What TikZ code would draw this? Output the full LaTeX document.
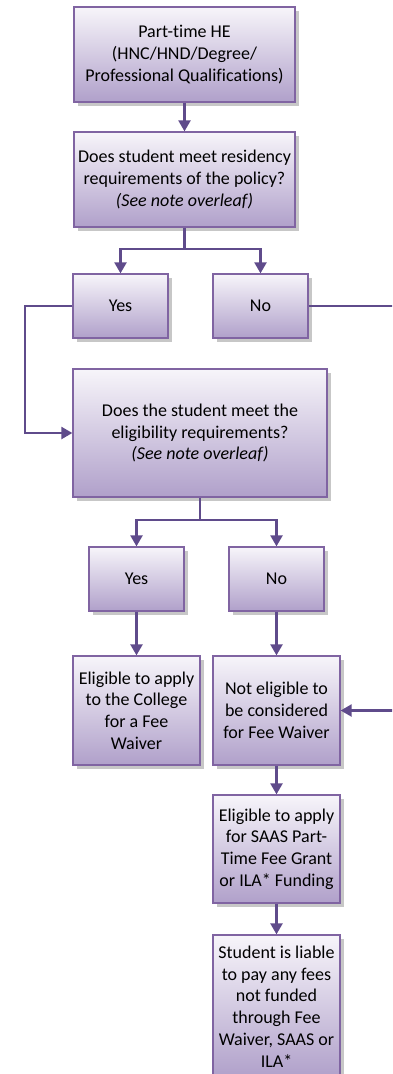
\documentclass[tikz,border=0pt]{standalone}
\usepackage{fontspec}
\setmainfont[Ligatures=NoCommon]{Carlito}
\usetikzlibrary{arrows.meta,shadows}
\definecolor{boxline}{HTML}{8064A2}
\definecolor{arrowc}{HTML}{5F4B8B}
\definecolor{topc}{HTML}{F7F5FA}
\definecolor{botc}{HTML}{B0A0CA}
\tikzset{
  fbox/.style={draw=boxline, line width=1.3pt, top color=topc, bottom color=botc,
    align=center, inner sep=0pt, font=\fontsize{18}{21.7}\selectfont,
    drop shadow={shadow xshift=3.5pt, shadow yshift=-3.5pt, fill=black!22, opacity=1}},
  conn/.style={draw=arrowc, line width=2.3pt},
  arr/.style={conn, -{Triangle[width=12pt,length=11pt]}}
}
\begin{document}
\begin{tikzpicture}[x=1pt,y=-1pt]
\useasboundingbox (0,0) rectangle (392,1074);
\clip (0,0) rectangle (392,1074);
\node[fbox, minimum width=221pt, minimum height=95pt] (b1) at (184.5,54.5)
  {Part-time HE\\(HNC/HND/Degree/\\Professional Qualifications)};
\node[fbox, minimum width=221pt, minimum height=95pt] (b2) at (184.5,179.5)
  {Does student meet residency\\requirements of the policy?\\\textit{(See note overleaf)}};
\node[fbox, minimum width=95pt, minimum height=64pt] (yes1) at (120.5,306) {Yes};
\node[fbox, minimum width=95pt, minimum height=64pt] (no1) at (260.5,306) {No};
\node[fbox, minimum width=254pt, minimum height=128pt] (b3) at (200,433)
  {Does the student meet the\\eligibility requirements?\\\textit{(See note overleaf)}};
\node[fbox, minimum width=95pt, minimum height=64pt] (yes2) at (136.5,579) {Yes};
\node[fbox, minimum width=95pt, minimum height=64pt] (no2) at (276.5,579) {No};
\node[fbox, minimum width=127pt, minimum height=109pt] (elig) at (136.5,710.5)
  {Eligible to apply\\to the College\\for a Fee\\Waiver};
\node[fbox, minimum width=127pt, minimum height=109pt] (noteg) at (276.5,710.5)
  {Not eligible to\\be considered\\for Fee Waiver};
\node[fbox, minimum width=127pt, minimum height=108pt] (saas) at (276.5,849)
  {Eligible to apply\\for SAAS Part-\\Time Fee Grant\\or ILA* Funding};
\node[fbox, minimum width=127pt, minimum height=143pt] (liable) at (276.5,1006.5)
  {Student is liable\\to pay any fees\\not funded\\through Fee\\Waiver, SAAS or\\ILA*};
\coordinate (j1) at (184.5,249);
\coordinate (j2) at (200,520);
\coordinate (yl) at (25,306);
\coordinate (nr) at (398,306);
\draw[arr] (b1) -- (b2);
\draw[conn] (b2.south) -- (j1);
\draw[arr] (j1) -| (yes1.north);
\draw[arr] (j1) -| (no1.north);
\draw[arr] (yes1.west) -- (yl) |- (b3.west);
\draw[arr] (no1.east) -- (nr) |- (noteg.east);
\draw[conn] (b3.south) -- (j2);
\draw[arr] (j2) -| (yes2.north);
\draw[arr] (j2) -| (no2.north);
\draw[arr] (yes2) -- (elig);
\draw[arr] (no2) -- (noteg);
\draw[arr] (noteg) -- (saas);
\draw[arr] (saas) -- (liable);
\end{tikzpicture}
\end{document}
